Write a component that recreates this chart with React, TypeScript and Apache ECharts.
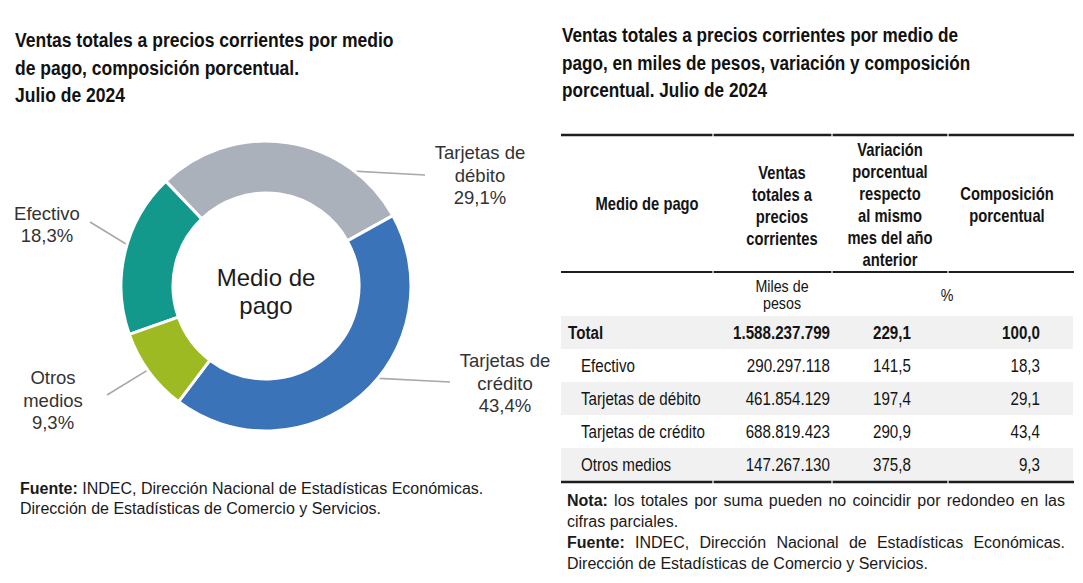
import React, { useEffect, useRef } from 'react';
import * as echarts from 'echarts';

// ---------- data ----------
const medios = ['Efectivo', 'Tarjetas de débito', 'Tarjetas de crédito', 'Otros medios'];
const pieLabelNames = ['Efectivo', 'Tarjetas de\ndébito', 'Tarjetas de\ncrédito', 'Otros\nmedios'];
const composicion = [18.3, 29.1, 43.4, 9.3];
const ventas = [290297118, 461854129, 688819423, 147267130];
const variacion = [141.5, 197.4, 290.9, 375.8];
const totalLabel = 'Total';
const totalVentas = 1588237799;
const totalVariacion = 229.1;
const totalComposicion = 100.0;
const sliceColors = ['#12998c', '#aab1ba', '#3a73b8', '#9dba22'];

const leftTitle = 'Ventas totales a precios corrientes por medio\nde pago, composición porcentual.\nJulio de 2024';
const rightTitle = 'Ventas totales a precios corrientes por medio de\npago, en miles de pesos, variación y composición\nporcentual. Julio de 2024';
const centerText = 'Medio de\npago';
const headers = [
  'Medio de pago',
  'Ventas\ntotales a\nprecios\ncorrientes',
  'Variación\nporcentual\nrespecto\nal mismo\nmes del año\nanterior',
  'Composición\nporcentual',
];
const unitVentas = 'Miles de\npesos';
const unitPct = '%';
const leftNotes = [
  [['Fuente:', true], ['INDEC, Dirección Nacional de Estadísticas Económicas.', false]],
  [['Dirección de Estadísticas de Comercio y Servicios.', false]],
];
const rightNotes = [
  { bold: 'Nota:', text: 'los totales por suma pueden no coincidir por redondeo en las', justify: true },
  { bold: '', text: 'cifras parciales.', justify: false },
  { bold: 'Fuente:', text: 'INDEC, Dirección Nacional de Estadísticas Económicas.', justify: true },
  { bold: '', text: 'Dirección de Estadísticas de Comercio y Servicios.', justify: false },
];

// ---------- helpers ----------
const fmtThousands = (n: number) => String(n).replace(/\B(?=(\d{3})+(?!\d))/g, '.');
const fmtDec = (v: number) => v.toFixed(1).replace('.', ',');

const SANS = "'Liberation Sans', Arial, sans-serif";
const NARROW_SCALE = 0.82;

let measureCtx: CanvasRenderingContext2D | null = null;
function measure(text: string, font: string) {
  if (!measureCtx) measureCtx = document.createElement('canvas').getContext('2d');
  measureCtx!.font = font;
  return measureCtx!.measureText(text).width;
}

function App() {
  const ref = useRef<HTMLDivElement>(null);

  useEffect(() => {
    if (!ref.current) return;
    const chart = echarts.init(ref.current, undefined, { renderer: 'svg' });

    const PIE_C = [266, 286];
    const R_OUT = 145;
    const R_IN = 93;
    const R_ANCHOR = 120;
    const START = 199.5;

    const labelPlace = [
      { x: 47, y: 224.5, end: [90, 222] },
      { x: 480, y: 175, end: [425, 175] },
      { x: 505, y: 383, end: [450, 382] },
      { x: 53, y: 400, end: [107, 395] },
    ];

    const pieData = medios.map((m, i) => ({ name: m, value: composicion[i] }));

    const graphics: any[] = [];
    const txt = (text: string, x: number, y: number, o: any = {}) =>
      graphics.push({
        type: 'text',
        x,
        y,
        scaleX: o.scaleX || 1,
        silent: true,
        style: {
          text,
          fill: o.fill || '#141414',
          fontSize: o.fontSize || 16,
          fontFamily: o.fontFamily || SANS,
          fontWeight: o.fontWeight || 'normal',
          lineHeight: o.lineHeight,
          align: o.align || 'left',
          verticalAlign: o.verticalAlign || 'middle',
        },
      });

    // titles (condensed look through horizontal scaling)
    txt(leftTitle, 15, 67.5, { fontSize: 21, fontWeight: 'bold', lineHeight: 27.5, fill: '#111', scaleX: 0.834 });
    txt(rightTitle, 562, 62.5, { fontSize: 21, fontWeight: 'bold', lineHeight: 27.5, fill: '#111', scaleX: 0.818 });

    // donut centre text
    txt(centerText, PIE_C[0], 291, { fontSize: 24, lineHeight: 28, align: 'center', fill: '#1c1c1c' });

    // ---- table ----
    const colB = [561, 713, 832, 948, 1074];
    const ruleY = [
      { y: 135, w: 2.5 },
      { y: 272, w: 2 },
      { y: 482, w: 2.5 },
    ];
    ruleY.forEach((r) => {
      for (let c = 0; c < 4; c++) {
        graphics.push({
          type: 'line',
          silent: true,
          shape: { x1: colB[c] + (c ? 0.6 : 0), y1: r.y, x2: colB[c + 1] - (c < 3 ? 0.6 : 0), y2: r.y },
          style: { stroke: '#1e1e1e', lineWidth: r.w },
        });
      }
    });

    const ROW_TOP = 316;
    const ROW_H = 33;
    const rowNames = [totalLabel, ...medios];
    const rowVentas = [totalVentas, ...ventas];
    const rowVar = [totalVariacion, ...variacion];
    const rowComp = [totalComposicion, ...composicion];
    rowNames.forEach((_, i) => {
      if (i % 2 === 0) {
        graphics.push({
          type: 'rect',
          silent: true,
          z: -1,
          shape: { x: 561, y: ROW_TOP + i * ROW_H, width: 512, height: ROW_H },
          style: { fill: '#f1f1f1' },
        });
      }
    });

    const hdrX = [647, 782, 890, 1007];
    const hdrY = [203.5, 205, 204, 204.5];
    headers.forEach((h, i) =>
      txt(h, hdrX[i], hdrY[i], {
        fontSize: 18,
        fontWeight: 'bold',
        lineHeight: 22,
        align: 'center',
        scaleX: NARROW_SCALE,
      })
    );
    txt(unitVentas, 782, 294.5, { fontSize: 17, lineHeight: 17, align: 'center', scaleX: 0.84 });
    txt(unitPct, 947, 295, { fontSize: 17, align: 'center', scaleX: 0.84 });

    rowNames.forEach((name, i) => {
      const y = ROW_TOP + i * ROW_H + ROW_H / 2;
      const o = { fontSize: 18.5, fontWeight: i === 0 ? 'bold' : 'normal', scaleX: NARROW_SCALE };
      txt(name, i === 0 ? 568 : 581, y, o);
      txt(fmtThousands(rowVentas[i]), 830, y, { ...o, align: 'right' });
      txt(fmtDec(rowVar[i]), 873, y, o);
      txt(fmtDec(rowComp[i]), 1040, y, { ...o, align: 'right' });
    });

    // ---- footnotes ----
    const NOTE_SIZE = 16;
    const placeLine = (segs: [string, boolean][], x0: number, y: number, x1?: number) => {
      const words: { t: string; b: boolean }[] = [];
      segs.forEach(([t, b]) => t.split(' ').filter(Boolean).forEach((w) => words.push({ t: w, b })));
      const fontOf = (b: boolean) => `${b ? 'bold ' : ''}${NOTE_SIZE}px ${SANS}`;
      const widths = words.map((w) => measure(w.t, fontOf(w.b)));
      const space = measure(' ', fontOf(false));
      const total = widths.reduce((a, b) => a + b, 0);
      const gap = x1 != null && words.length > 1 ? (x1 - x0 - total) / (words.length - 1) : space;
      let x = x0;
      words.forEach((w, i) => {
        txt(w.t, x, y, { fontSize: NOTE_SIZE, fontWeight: w.b ? 'bold' : 'normal', fill: '#1a1a1a' });
        x += widths[i] + gap;
      });
    };
    leftNotes.forEach((segs, i) => placeLine(segs as [string, boolean][], 20, 488.3 + i * 20, undefined));
    rightNotes.forEach((n, i) => {
      const segs: [string, boolean][] = [];
      if (n.bold) segs.push([n.bold, true]);
      segs.push([n.text, false]);
      placeLine(segs, 567, 500 + i * 21, n.justify ? 1065 : undefined);
    });

    const option: any = {
      animation: false,
      backgroundColor: '#ffffff',
      series: [
        {
          type: 'pie',
          silent: true,
          center: PIE_C,
          radius: [R_IN, R_OUT],
          startAngle: START,
          clockwise: true,
          label: { show: false },
          labelLine: { show: false },
          itemStyle: { borderColor: '#ffffff', borderWidth: 3 },
          data: pieData.map((d, i) => ({ ...d, itemStyle: { color: sliceColors[i] } })),
        },
        {
          type: 'pie',
          silent: true,
          center: PIE_C,
          radius: [0, R_ANCHOR],
          startAngle: START,
          clockwise: true,
          avoidLabelOverlap: false,
          minShowLabelAngle: 0,
          itemStyle: { color: 'rgba(0,0,0,0)', borderWidth: 0 },
          label: {
            show: true,
            position: 'outside',
            formatter: (p: any) => `${pieLabelNames[p.dataIndex]}\n${fmtDec(p.value)}%`,
            fontSize: 18.5,
            fontFamily: SANS,
            color: '#333333',
            lineHeight: 22.5,
            align: 'center',
          },
          labelLine: { show: true, length: 10, length2: 10, lineStyle: { color: '#a8a8a8', width: 1.6 } },
          labelLayout: (params: any) => {
            const i = params.dataIndex;
            const p = labelPlace[i];
            let a = params.labelLinePoints && params.labelLinePoints[0];
            if (!a) {
              const sum = composicion.reduce((s, v) => s + v, 0);
              const before = composicion.slice(0, i).reduce((s, v) => s + v, 0);
              const mid = ((START - ((before + composicion[i] / 2) / sum) * 360) * Math.PI) / 180;
              a = [PIE_C[0] + R_ANCHOR * Math.cos(mid), PIE_C[1] - R_ANCHOR * Math.sin(mid)];
            }
            return {
              x: p.x,
              y: p.y,
              align: 'center',
              verticalAlign: 'middle',
              labelLinePoints: [a, p.end, p.end],
            };
          },
          data: pieData,
        },
      ],
      graphic: { elements: graphics },
    };

    chart.setOption(option);
    return () => chart.dispose();
  }, []);

  return (
    <div
      ref={ref}
      style={{ position: 'absolute', left: 0, top: 0, width: 1083, height: 583, background: '#fff' }}
    />
  );
}

export default App;
